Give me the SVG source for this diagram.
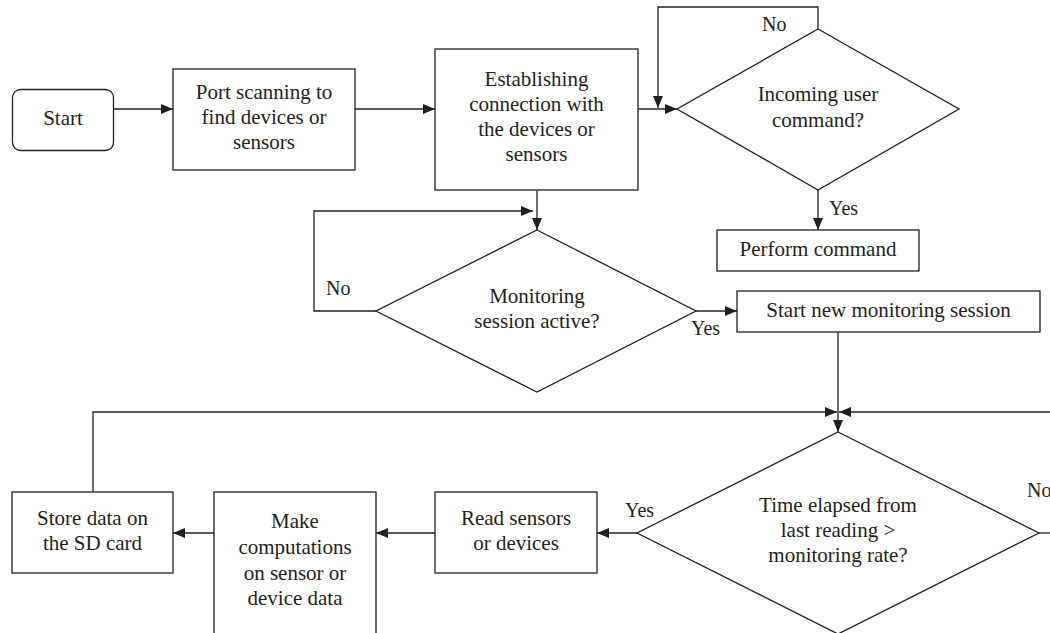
<svg xmlns="http://www.w3.org/2000/svg" width="1050" height="633" viewBox="0 0 1050 633" font-family="'Liberation Serif', 'DejaVu Serif', serif">
<style>
.shape{fill:#fff;stroke:#231f20;stroke-width:1.3}
.conn{fill:none;stroke:#231f20;stroke-width:1.3}
text{font-family:'Liberation Serif','DejaVu Serif',serif;font-size:21px;fill:#231f20;text-anchor:middle}
text.lbl{font-size:20px;text-anchor:start}
</style>
<defs>
<marker id="ah" viewBox="0 0 12 10" refX="12" refY="5" markerWidth="12" markerHeight="10" markerUnits="userSpaceOnUse" orient="auto">
<path d="M0,0 L12,5 L0,10 z" fill="#231f20"/>
</marker>
</defs>
<rect width="1050" height="633" fill="#fff"/>
<g id="connectors">
<path class="conn" d="M113,109 H173" marker-end="url(#ah)"/>
<path class="conn" d="M355,109 H435" marker-end="url(#ah)"/>
<path class="conn" d="M638,109 H677" marker-end="url(#ah)"/>
<path class="conn" d="M818,29 V7 H658 V108" marker-end="url(#ah)"/>
<path class="conn" d="M818,190 V230" marker-end="url(#ah)"/>
<path class="conn" d="M537,190 V230" marker-end="url(#ah)"/>
<path class="conn" d="M376,311 H314 V211 H533" marker-end="url(#ah)"/>
<path class="conn" d="M696,311 H737" marker-end="url(#ah)"/>
<path class="conn" d="M838,332 V432" marker-end="url(#ah)"/>
<path class="conn" d="M93,492 V412 H837" marker-end="url(#ah)"/>
<path class="conn" d="M1050,412 H839" marker-end="url(#ah)"/>
<path class="conn" d="M1039,533 H1050"/>
<path class="conn" d="M637,533 H597" marker-end="url(#ah)"/>
<path class="conn" d="M435,533 H376" marker-end="url(#ah)"/>
<path class="conn" d="M214,533 H173" marker-end="url(#ah)"/>
<text class="lbl" x="762" y="31">No</text>
<text class="lbl" x="829" y="215">Yes</text>
<text class="lbl" x="326" y="295">No</text>
<text class="lbl" x="691" y="335">Yes</text>
<text class="lbl" x="625" y="517">Yes</text>
<text class="lbl" x="1027" y="497">No</text>
</g>
<g id="start">
<rect class="shape" x="12.5" y="89.5" width="101" height="61" rx="8"/>
<text x="63" y="125">Start</text>
</g>
<g id="port-scan">
<rect class="shape" x="173" y="69" width="182" height="101"/>
<text x="264" y="99">Port scanning to</text>
<text x="264" y="124">find devices or</text>
<text x="264" y="149">sensors</text>
</g>
<g id="establish">
<rect class="shape" x="435" y="49" width="203" height="141"/>
<text x="536.5" y="86">Establishing</text>
<text x="536.5" y="111">connection with</text>
<text x="536.5" y="136">the devices or</text>
<text x="536.5" y="161">sensors</text>
</g>
<g id="incoming">
<polygon class="shape" points="818,29 959,109 818,190 677,109"/>
<text x="818" y="101">Incoming user</text>
<text x="818" y="127">command?</text>
</g>
<g id="perform">
<rect class="shape" x="717" y="230" width="202" height="41"/>
<text x="818" y="256">Perform command</text>
</g>
<g id="monitoring">
<polygon class="shape" points="537,230 696,311 537,392 376,311"/>
<text x="537" y="303">Monitoring</text>
<text x="537" y="328">session active?</text>
</g>
<g id="start-session">
<rect class="shape" x="737" y="291" width="303" height="41"/>
<text x="888.5" y="317">Start new monitoring session</text>
</g>
<g id="time-check">
<polygon class="shape" points="838,432 1039,533 838,634 637,533"/>
<text x="838" y="512">Time elapsed from</text>
<text x="838" y="537">last reading &gt;</text>
<text x="838" y="562">monitoring rate?</text>
</g>
<g id="read">
<rect class="shape" x="435" y="492" width="162" height="81"/>
<text x="516" y="525">Read sensors</text>
<text x="516" y="550">or devices</text>
</g>
<g id="compute">
<rect class="shape" x="214" y="492" width="162" height="150"/>
<text x="295" y="528">Make</text>
<text x="295" y="554">computations</text>
<text x="295" y="580">on sensor or</text>
<text x="295" y="605">device data</text>
</g>
<g id="store">
<rect class="shape" x="12" y="492" width="161" height="81"/>
<text x="92.5" y="525">Store data on</text>
<text x="92.5" y="550">the SD card</text>
</g>
</svg>
